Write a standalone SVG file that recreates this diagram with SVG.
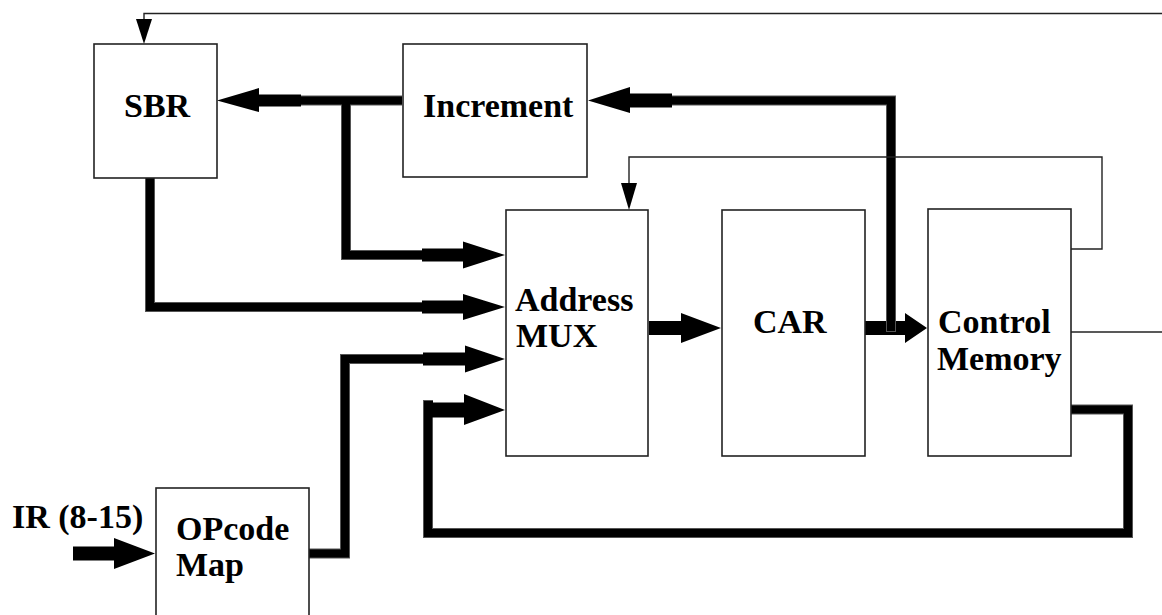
<svg xmlns="http://www.w3.org/2000/svg" width="1162" height="615" viewBox="0 0 1162 615">
  <style>
    .box { fill: #fff; stroke: #222; stroke-width: 1.6; }
    .lbl { font-family: "Liberation Serif", "Times New Roman", serif; font-weight: bold; font-size: 34px; fill: #000; }
    .thin { fill: none; stroke: #222; stroke-width: 1.4; }
    .busEdge { fill: none; stroke: #555; stroke-width: 10; stroke-linejoin: miter; stroke-linecap: butt; }
    .busCore { fill: none; stroke: #000; stroke-width: 8; stroke-linejoin: miter; stroke-linecap: butt; }
    .fat { fill: #000; stroke: none; }
    .head { fill: #000; stroke: none; }
  </style>

  <!-- buses (thick double-edged lines) and thin control lines -->
  <g id="connectors">
    <g id="buses">
      <path class="busEdge" d="M301,100.5 H402"/>
      <path class="busEdge" d="M346,100.5 V255 H422"/>
      <path class="busEdge" d="M150,178 V307 H422"/>
      <path class="busEdge" d="M309,553.5 H345 V359 H423"/>
      <path class="busEdge" d="M1071,409.5 H1128 V533 H428 V405 H433"/>
      <path class="busEdge" d="M672,100.5 H891 V332"/>
      <path class="busCore" d="M301,100.5 H402"/>
      <path class="busCore" d="M346,100.5 V255 H422"/>
      <path class="busCore" d="M150,178 V307 H422"/>
      <path class="busCore" d="M309,553.5 H345 V359 H423"/>
      <path class="busCore" d="M1071,409.5 H1128 V533 H428 V405 H433"/>
      <path class="busCore" d="M672,100.5 H891 V331"/>
    </g>

    <!-- fat arrows -->
    <g id="fatArrows">
      <!-- Increment -> SBR -->
      <path class="fat" d="M301,94.5 H259 V88 L217,100.5 L259,112 V106.5 H301 Z"/>
      <!-- into Increment -->
      <path class="fat" d="M672,93.5 H630 V87 L588,100.5 L630,113 V107.5 H672 Z"/>
      <!-- into Address MUX -->
      <path class="fat" d="M422,248.5 H463 V241.5 L505,255 L463,268.5 V261.5 H422 Z"/>
      <path class="fat" d="M422,300.5 H463 V294 L505,307 L463,320 V313.5 H422 Z"/>
      <path class="fat" d="M423,352.5 H465 V345.5 L505,359 L465,372.5 V365.5 H423 Z"/>
      <path class="fat" d="M428,402.5 H464 V394 L505,410 L464,425 V417.5 H428 Z"/>
      <!-- MUX -> CAR -->
      <path class="fat" d="M649,321 H681 V313 L721,328 L681,343 V335 H649 Z"/>
      <!-- CAR -> Control Memory -->
      <path class="fat" d="M865,321 H905 V313 L927,328 L905,343 V335 H865 Z"/>
      <!-- IR input -->
      <path class="fat" d="M73,546.5 H114 V538 L155,553.5 L114,569 V560.5 H73 Z"/>
    </g>

    <!-- bus tap from the Increment loop, drawn over the CAR output arrow -->
    <g id="incrementTap">
      <path class="busEdge" d="M891,260 V332"/>
      <path class="busCore" d="M891,260 V331"/>
    </g>

    <g id="thinLines">
      <path class="thin" d="M1162,13.5 H144 V22"/>
      <polygon class="head" points="136,19 152,19 144,44"/>
      <path class="thin" d="M1071,249 H1102 V157 H629 V186"/>
      <polygon class="head" points="621,183 637,183 629,210"/>
      <path class="thin" d="M1071,332 H1162"/>
    </g>
  </g>

  <!-- blocks -->
  <g id="sbr">
    <rect class="box" x="94" y="44" width="123" height="134"/>
    <text class="lbl" x="124" y="117">SBR</text>
  </g>
  <g id="increment">
    <rect class="box" x="403" y="44" width="184" height="133"/>
    <text class="lbl" x="423" y="117">Increment</text>
  </g>
  <g id="address-mux">
    <rect class="box" x="506" y="210" width="142" height="246"/>
    <text class="lbl" x="515" y="311">Address</text>
    <text class="lbl" x="516" y="347">MUX</text>
  </g>
  <g id="car">
    <rect class="box" x="722" y="210" width="143" height="246"/>
    <text class="lbl" x="753" y="333">CAR</text>
  </g>
  <g id="control-memory">
    <rect class="box" x="928" y="209" width="143" height="247"/>
    <text class="lbl" x="938" y="333">Control</text>
    <text class="lbl" x="937" y="370">Memory</text>
  </g>
  <g id="opcode-map">
    <rect class="box" x="156" y="488" width="153" height="140"/>
    <text class="lbl" x="176" y="540">OPcode</text>
    <text class="lbl" x="176" y="576">Map</text>
  </g>
  <g id="ir-label">
    <text class="lbl" x="12" y="528">IR (8-15)</text>
  </g>
</svg>
